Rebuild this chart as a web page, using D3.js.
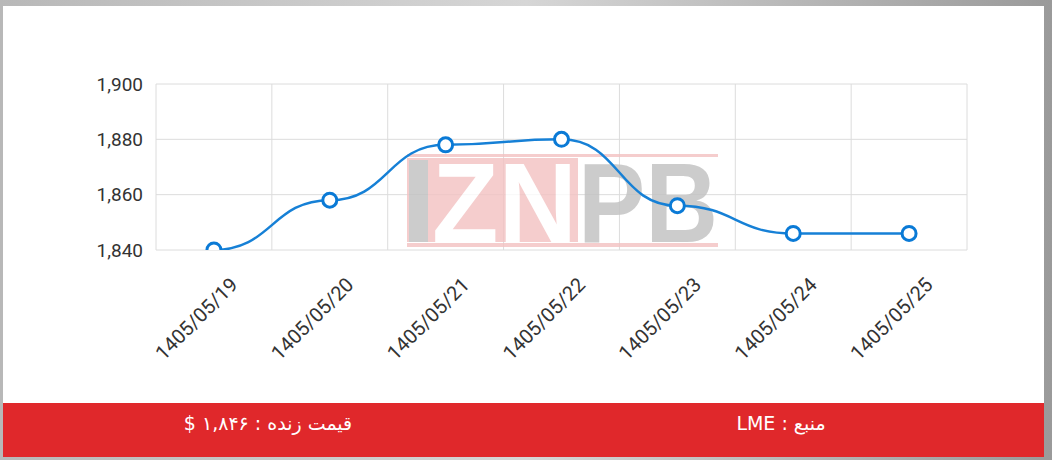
<!DOCTYPE html>
<html>
<head>
<meta charset="utf-8">
<script src="https://cdnjs.cloudflare.com/ajax/libs/d3/7.8.5/d3.min.js"></script>
<style>
  html, body { margin: 0; padding: 0; background: #fff; }
  svg { display: block; }
</style>
</head>
<body>
<svg width="1052" height="460"></svg>
<script>
// data
const dates = ["1405/05/19", "1405/05/20", "1405/05/21", "1405/05/22", "1405/05/23", "1405/05/24", "1405/05/25"];
const prices = [1840, 1858, 1878, 1880, 1856, 1846, 1846];
const yTicks = [1840, 1860, 1880, 1900];
const livePrice = "قیمت زنده : ۱,۸۴۶ $";
const source = "منبع : LME";

const svg = d3.select("svg"),
  width = +svg.attr("width"),
  height = +svg.attr("height");

// frame
const defs = svg.append("defs");
const grad = defs.append("linearGradient").attr("id", "frame")
  .attr("x1", 0).attr("x2", 1).attr("y1", 0).attr("y2", 0);
grad.append("stop").attr("offset", "0").attr("stop-color", "#b8b8b8");
grad.append("stop").attr("offset", "0.5").attr("stop-color", "#d6d6d6");
grad.append("stop").attr("offset", "1").attr("stop-color", "#9a9a9a");
svg.append("rect").attr("width", width).attr("height", height).attr("fill", "url(#frame)");
svg.append("rect").attr("x", 3).attr("y", 6).attr("width", 1041).attr("height", 451).attr("fill", "#fff");

const margin = { top: 84, left: 156, right: 967, bottom: 250 };

const x = d3.scaleBand().domain(dates).range([margin.left, margin.right]).padding(0);
const y = d3.scaleLinear().domain([1840, 1900]).range([margin.bottom, margin.top]);

// clip the series to the plot area
defs.append("clipPath").attr("id", "plot")
  .append("rect")
  .attr("x", margin.left - 10).attr("y", margin.top - 10)
  .attr("width", margin.right - margin.left + 20)
  .attr("height", margin.bottom - margin.top + 10);

// grid
const grid = svg.append("g");
grid.selectAll("line.h")
  .data(yTicks)
  .enter().append("line")
  .attr("x1", margin.left).attr("x2", margin.right)
  .attr("y1", d => y(d)).attr("y2", d => y(d))
  .attr("stroke", "#dcdcdc").attr("stroke-width", 1);
grid.selectAll("line.v")
  .data(dates.concat(["end"]))
  .enter().append("line")
  .attr("x1", (d, i) => i < dates.length ? x(d) : x.range()[1])
  .attr("x2", (d, i) => i < dates.length ? x(d) : x.range()[1])
  .attr("y1", margin.top).attr("y2", margin.bottom)
  .attr("stroke", "#dcdcdc").attr("stroke-width", 1);

// watermark
const wm = svg.append("g").attr("opacity", 0.82);
wm.append("rect").attr("x", 407).attr("y", 154).attr("width", 311).attr("height", 3).attr("fill", "#f3c3c3");
wm.append("rect").attr("x", 407).attr("y", 243).attr("width", 311).attr("height", 4).attr("fill", "#f3c3c3");
wm.append("rect").attr("x", 407).attr("y", 158).attr("width", 171).attr("height", 84).attr("fill", "#f3c3c3");
wm.append("rect").attr("x", 409).attr("y", 160).attr("width", 19).attr("height", 82).attr("fill", "#c2c2c2");
wm.append("text").attr("x", 432).attr("y", 242)
  .attr("textLength", 145).attr("lengthAdjust", "spacingAndGlyphs")
  .attr("font-family", "Liberation Sans, Arial, sans-serif").attr("font-weight", "bold")
  .attr("font-size", 114).attr("fill", "#fff").text("ZN");
wm.append("text").attr("x", 578).attr("y", 242)
  .attr("textLength", 140).attr("lengthAdjust", "spacingAndGlyphs")
  .attr("font-family", "Liberation Sans, Arial, sans-serif").attr("font-weight", "bold")
  .attr("font-size", 114).attr("fill", "#c2c2c2").text("PB");

// y axis
const yAxis = svg.append("g")
  .attr("transform", `translate(${margin.left},0)`)
  .call(d3.axisLeft(y).tickValues(yTicks).tickSize(0).tickPadding(13).tickFormat(d3.format(",")));
yAxis.select(".domain").remove();
yAxis.selectAll("text")
  .attr("font-family", "Roboto, sans-serif").attr("font-size", 19).attr("fill", "#333");

// x labels
svg.append("g").selectAll("text")
  .data(dates)
  .enter().append("text")
  .attr("transform", d => `translate(${x(d) + x.bandwidth() / 2 + 25},${margin.bottom + 36}) rotate(-45)`)
  .attr("text-anchor", "end")
  .attr("font-family", "Roboto, sans-serif").attr("font-size", 20).attr("fill", "#333")
  .text(d => d);

// line
const line = d3.line()
  .x((d, i) => x(dates[i]) + x.bandwidth() / 2)
  .y(d => y(d))
  .curve(d3.curveBumpX);

const series = svg.append("g").attr("clip-path", "url(#plot)");

series.append("path")
  .datum(prices)
  .attr("d", line)
  .attr("fill", "none")
  .attr("stroke", "#1680d6")
  .attr("stroke-width", 2.5);

series.selectAll("circle")
  .data(prices)
  .enter().append("circle")
  .attr("cx", (d, i) => x(dates[i]) + x.bandwidth() / 2)
  .attr("cy", d => y(d))
  .attr("r", 7)
  .attr("fill", "#fff")
  .attr("stroke", "#0a7ad6")
  .attr("stroke-width", 3);

// footer bar
svg.append("rect").attr("x", 3).attr("y", 403).attr("width", 1041).attr("height", 54).attr("fill", "#e0282b");
svg.append("text").attr("x", 268).attr("y", 430)
  .attr("text-anchor", "middle").attr("direction", "rtl")
  .attr("font-family", "DejaVu Sans, sans-serif").attr("font-size", 19).attr("fill", "#fff")
  .text(livePrice);
svg.append("text").attr("x", 781).attr("y", 430)
  .attr("text-anchor", "middle").attr("direction", "rtl")
  .attr("font-family", "DejaVu Sans, sans-serif").attr("font-size", 19).attr("fill", "#fff")
  .text(source);
</script>
</body>
</html>
